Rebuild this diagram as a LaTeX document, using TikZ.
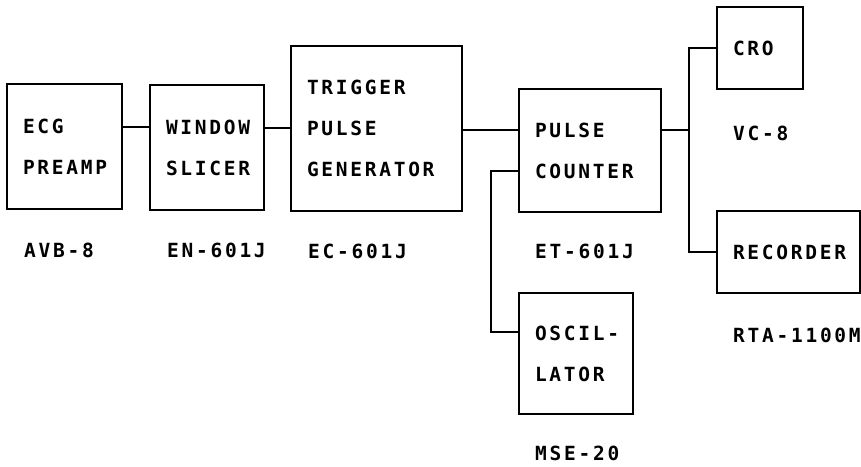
\documentclass[tikz,border=0pt]{standalone}
\usepackage{fontspec}
\usepackage{tikz}
\newfontfamily\plotfont[LetterSpace=14]{DejaVu Sans Mono Bold}

\begin{document}
\begin{tikzpicture}[
    x=1pt, y=-1pt,
    box/.style={rectangle, draw=black, line width=2pt, align=left, inner xsep=16pt, inner ysep=2pt, font=\plotfont\fontsize{19.5}{41}\selectfont},
    tag/.style={anchor=west, inner sep=0pt, font=\plotfont\fontsize{19.5}{41}\selectfont},
    link/.style={line width=2pt, draw=black}
]
    \useasboundingbox (0,0) rectangle (861,466);

    % Nodes
    \node[box, text width=83pt, minimum height=125pt] (ecg) at (64.5,146.5) {ECG\\PREAMP};
    \node[box, text width=82pt, minimum height=125pt] (window) at (207,147.5) {WINDOW\\SLICER};
    \node[box, text width=139pt, minimum height=165pt] (trigger) at (376.5,128.5) {TRIGGER\\PULSE\\GENERATOR};
    \node[box, text width=110pt, minimum height=123pt] (counter) at (590,150.5) {PULSE\\COUNTER};
    \node[box, text width=82pt, minimum height=121pt] (osc) at (576,353.5) {\mbox{OSCIL-}\\LATOR};
    \node[box, text width=54pt, minimum height=82pt] (cro) at (760,48) {CRO};
    \node[box, text width=111pt, minimum height=82pt] (recorder) at (788.5,252) {\mbox{RECORDER}};

    % Model numbers
    \node[tag] (avb) at (24,250) {AVB-8};
    \node[tag] (en) at (167,250) {EN-601J};
    \node[tag] (ec) at (308,251) {EC-601J};
    \node[tag] (et) at (535,251) {ET-601J};
    \node[tag] (mse) at (535,453) {MSE-20};
    \node[tag] (vc) at (733,133) {VC-8};
    \node[tag] (rta) at (733,335) {RTA-1100M};

    % Connection points
    \coordinate (row1) at (0,127);
    \coordinate (row2) at (0,128);
    \coordinate (row3) at (0,130);
    \coordinate (bus) at (689,130);
    \coordinate (tap) at (491,171);
    \coordinate (row4) at (0,332);

    % Lines
    \draw[link] (ecg.east |- row1) -- (window.west |- row1);
    \draw[link] (window.east |- row2) -- (trigger.west |- row2);
    \draw[link] (trigger.east |- row3) -- (counter.west |- row3);
    \draw[link] (counter.east |- bus) -- (bus);
    \draw[link] (cro.west) -| (bus) |- (recorder.west);
    \draw[link] (tap -| counter.west) -- (tap) |- (osc.west |- row4);
\end{tikzpicture}
\end{document}
